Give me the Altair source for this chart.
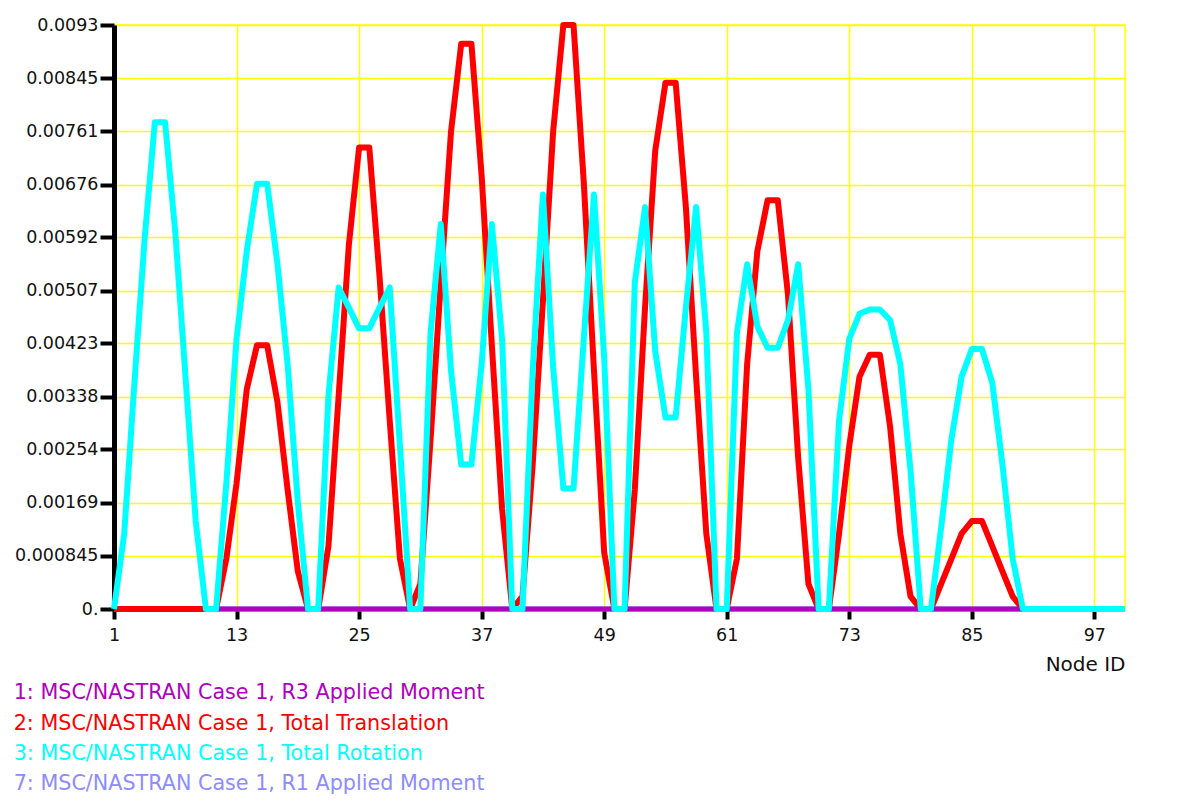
import altair as alt
import pandas as pd

# ---------------- data ----------------
nodes = list(range(1, 101))

S1 = "1: MSC/NASTRAN Case 1, R3 Applied Moment"
S2 = "2: MSC/NASTRAN Case 1, Total Translation"
S3 = "3: MSC/NASTRAN Case 1, Total Rotation"
S7 = "7: MSC/NASTRAN Case 1, R1 Applied Moment"

series_names = [S1, S2, S3, S7]
series_colors = ["#b000c0", "#ff0000", "#00ffff", "#8c8cff"]

total_translation = [
    0, 0, 0, 0, 0, 0, 0, 0, 0, 0,
    0, 0.0008, 0.0020, 0.0035, 0.0042, 0.0042, 0.0033, 0.0019, 0.0006, 0,
    0, 0.0010, 0.0034, 0.0058, 0.00735, 0.00735, 0.0053, 0.0030, 0.0008, 0,
    0.0004, 0.0027, 0.0052, 0.0076, 0.0090, 0.0090, 0.0069, 0.0042, 0.0016, 0,
    0.0002, 0.0023, 0.0049, 0.0076, 0.0093, 0.0093, 0.0068, 0.0038, 0.0009, 0,
    0, 0.0019, 0.0048, 0.0073, 0.00838, 0.00838, 0.0064, 0.0037, 0.0012, 0,
    0, 0.0008, 0.0039, 0.0057, 0.00651, 0.00651, 0.0050, 0.0024, 0.0004, 0,
    0, 0.0012, 0.0026, 0.0037, 0.00405, 0.00405, 0.0029, 0.0012, 0.0002, 0,
    0, 0.0004, 0.0008, 0.0012, 0.0014, 0.0014, 0.0010, 0.0006, 0.0002, 0,
    0, 0, 0, 0, 0, 0, 0, 0, 0, 0,
]

total_rotation = [
    0, 0.0012, 0.0036, 0.0059, 0.00775, 0.00775, 0.0060, 0.0037, 0.0014, 0,
    0, 0.0020, 0.0043, 0.0057, 0.00677, 0.00677, 0.0055, 0.0039, 0.0017, 0,
    0, 0.0034, 0.00512, 0.0048, 0.00447, 0.00447, 0.0048, 0.00512, 0.0026, 0,
    0, 0.0044, 0.00613, 0.0038, 0.0023, 0.0023, 0.0039, 0.00613, 0.0043, 0,
    0, 0.0038, 0.0066, 0.00385, 0.00192, 0.00192, 0.0043, 0.0066, 0.0040, 0,
    0, 0.0052, 0.0064, 0.0041, 0.00305, 0.00305, 0.0048, 0.0064, 0.0044, 0,
    0, 0.0044, 0.00549, 0.0045, 0.00416, 0.00416, 0.0046, 0.00549, 0.0035, 0,
    0, 0.0030, 0.0043, 0.0047, 0.00477, 0.00477, 0.0046, 0.0039, 0.0022, 0,
    0, 0.0013, 0.0027, 0.0037, 0.00414, 0.00414, 0.0036, 0.0023, 0.0008, 0,
    0, 0, 0, 0, 0, 0, 0, 0, 0, 0,
]

r3_nodes = list(range(11, 101))
r3_moment = [0.0] * 90
r1_moment = [0.0] * 100

x_ticks = [1, 13, 25, 37, 49, 61, 73, 85, 97]
y_ticks = [0, 0.000845, 0.00169, 0.00254, 0.00338, 0.00423, 0.00507,
           0.00592, 0.00676, 0.00761, 0.00845, 0.0093]

# ---------------- table ----------------
rows = []
for n, v in zip(nodes, r1_moment):
    rows.append({"node": n, "value": v, "series": S7})
for n, v in zip(nodes, total_translation):
    rows.append({"node": n, "value": v, "series": S2})
for n, v in zip(r3_nodes, r3_moment):
    rows.append({"node": n, "value": v, "series": S1})
for n, v in zip(nodes, total_rotation):
    rows.append({"node": n, "value": v, "series": S3})
df = pd.DataFrame(rows)

FONT = "DejaVu Sans"
GRID = "#ffff00"

x_enc = alt.X(
    "node:Q",
    scale=alt.Scale(domain=[1, 100], nice=False, zero=False),
    axis=alt.Axis(
        values=x_ticks, grid=True, gridColor=GRID, gridWidth=1.5,
        domain=False, tickColor="black", tickWidth=4, tickSize=10,
        labelFont=FONT, labelFontSize=17.5, labelColor="#111111",
        labelPadding=7, labelFlush=False, labelOverlap=False,
        title="Node ID", titleFont=FONT, titleFontSize=20,
        titleFontWeight="normal", titleColor="#111111",
        titleAnchor="end", titlePadding=11,
    ),
)
y_enc = alt.Y(
    "value:Q",
    scale=alt.Scale(domain=[0, 0.0093], nice=False, zero=True),
    axis=alt.Axis(
        values=y_ticks,
        labelExpr="datum.value == 0 ? '0.' : format(datum.value, '~g')",
        grid=True, gridColor=GRID, gridWidth=1.5,
        domainColor="black", domainWidth=5,
        tickColor="black", tickWidth=4, tickSize=14,
        labelFont=FONT, labelFontSize=17.5, labelColor="#111111",
        labelPadding=2, labelFlush=False, labelOverlap=False,
        title=None,
    ),
)
color_enc = alt.Color(
    "series:N",
    scale=alt.Scale(domain=series_names, range=series_colors),
    legend=alt.Legend(
        title=None, orient="none", legendX=-121, legendY=658,
        direction="vertical", symbolSize=0, symbolOpacity=0,
        symbolStrokeWidth=0, labelFont=FONT, labelFontSize=20.7,
        labelLimit=0, rowPadding=8.3, labelOffset=0, padding=0,
        labelColor={"expr": "scale('color', datum.value)"},
    ),
)

base = alt.Chart(df).encode(x=x_enc, y=y_enc, color=color_enc)

def layer_for(name, width):
    return base.transform_filter(alt.datum.series == name).mark_line(
        strokeWidth=width, strokeJoin="round", interpolate="linear"
    )

chart = alt.layer(
    layer_for(S7, 5),
    layer_for(S2, 6),
    layer_for(S1, 5),
    layer_for(S3, 6),
).properties(
    width=1011, height=584,
    autosize=alt.AutoSizeParams(type="none"),
    padding={"left": 106, "top": 17, "right": 45, "bottom": 190},
    background="white",
).configure_view(stroke=GRID, strokeWidth=1.5)

chart.save("out.html", embed_options={"renderer": "svg", "actions": False})
